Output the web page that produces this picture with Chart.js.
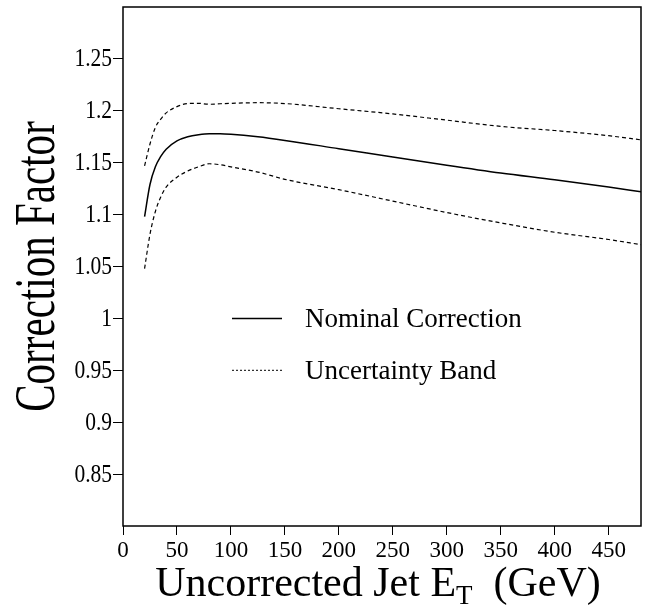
<!DOCTYPE html>
<html>
<head>
<meta charset="utf-8">
<script src="https://cdn.jsdelivr.net/npm/chart.js@4/dist/chart.umd.min.js"></script>
<style>
  html, body { margin: 0; padding: 0; background: #fff; }
  #wrap { width: 647px; height: 606px; }
</style>
</head>
<body>
<div id="wrap"><canvas id="chart"></canvas></div>
<script>
// jet energy (GeV) and correction factors
const energy    = [20, 25, 30, 35, 40, 50, 60, 70, 80, 90, 100, 125, 150, 200, 250, 300, 350, 400, 450, 480];
const nominal   = [1.098, 1.129, 1.146, 1.156, 1.163, 1.171, 1.175, 1.177, 1.178, 1.178, 1.1775, 1.175, 1.1715, 1.1635, 1.1555, 1.1475, 1.140, 1.1335, 1.1265, 1.122];
const bandUpper = [1.147, 1.168, 1.184, 1.192, 1.198, 1.204, 1.207, 1.2072, 1.2063, 1.2068, 1.2072, 1.2078, 1.207, 1.202, 1.197, 1.191, 1.185, 1.181, 1.176, 1.172];
const bandLower = [1.048, 1.081, 1.103, 1.117, 1.1265, 1.136, 1.142, 1.146, 1.149, 1.148, 1.146, 1.141, 1.134, 1.124, 1.113, 1.102, 1.092, 1.083, 1.076, 1.071];

const legendItems = ['Nominal Correction', 'Uncertainty Band'];
const xTitle = ['Uncorrected Jet E', 'T', '  (GeV)'];
const yTitle = 'Correction Factor';

const SERIF = '"Liberation Serif", "Times New Roman", serif';

function points(ys) {
  return energy.map((x, i) => ({ x: x, y: ys[i] }));
}

function fmt(v) {
  return String(+v.toFixed(2));
}

// box frame, condensed y labels, axis titles and the in-plot legend
const decorations = {
  id: 'decorations',
  afterDraw(chart) {
    const { ctx, chartArea: a, scales } = chart;
    const y = scales.y;
    ctx.save();
    ctx.strokeStyle = '#000';
    ctx.lineWidth = 1.5;
    ctx.strokeRect(a.left, a.top, a.right - a.left, a.bottom - a.top);

    ctx.fillStyle = '#000';

    // y tick labels, set in a narrow face
    ctx.font = '25px ' + SERIF;
    ctx.textAlign = 'right';
    ctx.textBaseline = 'middle';
    y.ticks.forEach(t => {
      ctx.save();
      ctx.translate(a.left - 11, y.getPixelForValue(t.value));
      ctx.scale(0.86, 1);
      ctx.fillText(fmt(t.value), 0, 1);
      ctx.restore();
    });

    // x title with subscript T
    ctx.textBaseline = 'alphabetic';
    const big = '42px ' + SERIF, small = '27px ' + SERIF;
    ctx.font = big;
    const w1 = ctx.measureText(xTitle[0]).width;
    const w3 = ctx.measureText(xTitle[2]).width;
    ctx.font = small;
    const w2 = ctx.measureText(xTitle[1]).width;
    let x = 378 - (w1 + w2 + w3) / 2;
    const base = 596;
    ctx.textAlign = 'left';
    ctx.font = big;
    ctx.fillText(xTitle[0], x, base);
    x += w1;
    ctx.font = small;
    ctx.fillText(xTitle[1], x, base + 8);
    x += w2;
    ctx.font = big;
    ctx.fillText(xTitle[2], x, base);

    // y title, rotated and condensed
    ctx.save();
    ctx.translate(54, (a.top + a.bottom) / 2);
    ctx.rotate(-Math.PI / 2);
    ctx.scale(0.72, 1);
    ctx.textAlign = 'center';
    ctx.font = '57px ' + SERIF;
    ctx.fillText(yTitle, 0, 0);
    ctx.restore();

    // legend
    const rows = [
      { y: y.getPixelForValue(1.0), dash: [], width: 1.5 },
      { y: y.getPixelForValue(0.95), dash: [2, 2], width: 1 }
    ];
    ctx.font = '27px ' + SERIF;
    ctx.textAlign = 'left';
    ctx.textBaseline = 'middle';
    rows.forEach((r, i) => {
      ctx.beginPath();
      ctx.setLineDash(r.dash);
      ctx.lineWidth = r.width;
      ctx.moveTo(232, r.y);
      ctx.lineTo(282, r.y);
      ctx.stroke();
      ctx.setLineDash([]);
      ctx.fillText(legendItems[i], 305, r.y + 2);
    });
    ctx.restore();
  }
};

new Chart(document.getElementById('chart'), {
  type: 'line',
  data: {
    datasets: [
      {
        label: legendItems[0],
        data: points(nominal),
        borderColor: '#000',
        borderWidth: 1.5,
        pointRadius: 0,
        cubicInterpolationMode: 'monotone'
      },
      {
        label: legendItems[1],
        data: points(bandUpper),
        borderColor: '#000',
        borderWidth: 1.2,
        borderDash: [4, 3],
        pointRadius: 0,
        cubicInterpolationMode: 'monotone'
      },
      {
        label: legendItems[1] + ' (low)',
        data: points(bandLower),
        borderColor: '#000',
        borderWidth: 1.2,
        borderDash: [4, 3],
        pointRadius: 0,
        cubicInterpolationMode: 'monotone'
      }
    ]
  },
  options: {
    responsive: true,
    maintainAspectRatio: false,
    animation: false,
    layout: { padding: { top: 7, right: 6, left: 0, bottom: 0 } },
    plugins: {
      legend: { display: false },
      tooltip: { enabled: false }
    },
    scales: {
      x: {
        type: 'linear',
        min: 0,
        max: 480,
        border: { display: false },
        grid: { drawOnChartArea: false, drawTicks: true, tickLength: 9, tickColor: '#000', tickWidth: 1 },
        ticks: {
          stepSize: 50,
          includeBounds: false,
          color: '#000',
          padding: 2,
          maxRotation: 0,
          font: { family: SERIF, size: 23 }
        },
        afterBuildTicks: s => { s.ticks = s.ticks.filter(t => t.value <= 450); },
        afterFit: s => { s.height = 80; }
      },
      y: {
        min: 0.8,
        max: 1.3,
        border: { display: false },
        grid: { drawOnChartArea: false, drawTicks: true, tickLength: 10, tickColor: '#000', tickWidth: 1 },
        ticks: {
          stepSize: 0.05,
          display: false,
          callback: v => fmt(v)
        },
        afterBuildTicks: s => { s.ticks = s.ticks.filter(t => t.value > 0.81 && t.value < 1.29); },
        afterFit: s => { s.width = 123; }
      }
    }
  },
  plugins: [decorations]
});
</script>
</body>
</html>
